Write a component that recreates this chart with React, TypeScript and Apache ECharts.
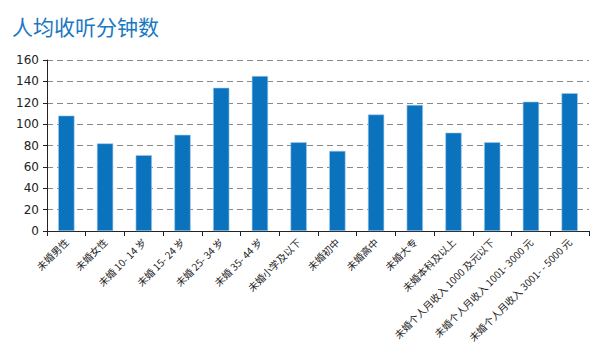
import React, { useEffect, useRef } from "react";
import * as echarts from "echarts";

const title = "人均收听分钟数";
const categories = [
  "未婚男性",
  "未婚女性",
  "未婚 10- 14 岁",
  "未婚 15- 24 岁",
  "未婚 25- 34 岁",
  "未婚 35- 44 岁",
  "未婚小学及以下",
  "未婚初中",
  "未婚高中",
  "未婚大专",
  "未婚本科及以上",
  "未婚个人月收入 1000 及元以下",
  "未婚个人月收入 1001- 3000 元",
  "未婚个人月收入 3001- - 5000 元",
];
const values = [108, 82, 71, 90, 134, 145, 83, 75, 109, 118, 92, 83, 121, 129];

export default function App() {
  const ref = useRef<HTMLDivElement>(null);
  useEffect(() => {
    if (!ref.current) return;
    const chart = echarts.init(ref.current, null, { renderer: "svg" });
    const font = "'Noto Sans CJK SC', 'DejaVu Sans', sans-serif";
    chart.setOption({
      animation: false,
      backgroundColor: "#ffffff",
      title: {
        text: title,
        left: 7,
        top: 10,
        textStyle: { color: "#1a78c2", fontSize: 21, fontWeight: "normal", fontFamily: font },
      },
      grid: { left: 47, right: 11, top: 60, bottom: 127, containLabel: false },
      xAxis: {
        type: "category",
        data: categories,
        axisLine: { lineStyle: { color: "#222", width: 1 } },
        axisTick: { show: true, alignWithLabel: false, length: 5, lineStyle: { color: "#222" } },
        axisLabel: {
          rotate: 45,
          fontSize: 10,
          color: "#222",
          fontFamily: font,
          interval: 0,
          margin: 9,
          padding: [0, 0, 6, 0],
        },
      },
      yAxis: {
        type: "value",
        min: 0,
        max: 160,
        interval: 20,
        axisLine: { show: true, lineStyle: { color: "#222" } },
        axisTick: { show: true, length: 4, lineStyle: { color: "#222" } },
        axisLabel: { fontSize: 12, color: "#222", fontFamily: "'DejaVu Sans', sans-serif", margin: 8 },
        splitLine: { show: true, lineStyle: { color: "#888", type: [6, 4], width: 1 } },
      },
      series: [
        {
          type: "bar",
          data: values,
          barWidth: "42%",
          itemStyle: { color: "#0b72bd", borderColor: "#9fc9ea", borderWidth: 0.6 },
        },
      ],
    });
    return () => chart.dispose();
  }, []);
  return <div ref={ref} style={{ width: 600, height: 358, position: "absolute", left: 0, top: 0 }} />;
}
